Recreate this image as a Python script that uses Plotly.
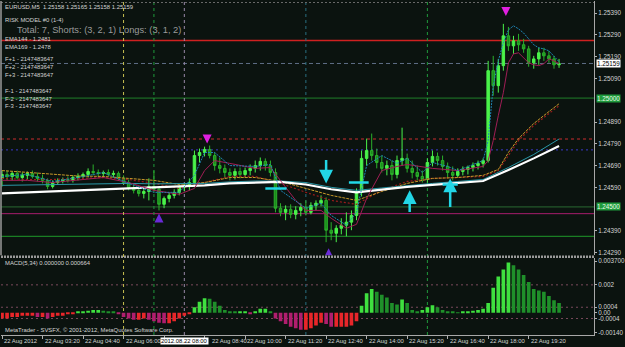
import plotly.graph_objects as go

BG = "#0b130f"
FONT = "Liberation Sans, Arial, sans-serif"
TXT = "#d4d4d4"

# ---------------- data ----------------
# 10-minute bars, 22 Aug 2012 02:00 .. 20:20 (bar index 0..110)
bar_idx = list(range(111))

opens = [
    1.24631, 1.24649, 1.24640, 1.24654, 1.24635, 1.24645, 1.24654, 1.24640, 1.24631, 1.24622,
    1.24594, 1.24612, 1.24617, 1.24626, 1.24622, 1.24635, 1.24640, 1.24649, 1.24663, 1.24658,
    1.24654, 1.24658, 1.24649, 1.24654, 1.24631, 1.24612, 1.24585, 1.24576, 1.24562, 1.24571,
    1.24594, 1.24581, 1.24512, 1.24539, 1.24553, 1.24567, 1.24590, 1.24594, 1.24612, 1.24736,
    1.24750, 1.24764, 1.24736, 1.24690, 1.24677, 1.24658, 1.24645, 1.24663, 1.24649, 1.24667,
    1.24677, 1.24690, 1.24709, 1.24690, 1.24658, 1.24494, 1.24475, 1.24489, 1.24466, 1.24484,
    1.24498, 1.24475, 1.24507, 1.24517, 1.24530, 1.24393, 1.24379, 1.24402, 1.24416, 1.24430,
    1.24461, 1.24567, 1.24723, 1.24759, 1.24736, 1.24704, 1.24677, 1.24690, 1.24649, 1.24713,
    1.24723, 1.24677, 1.24658, 1.24640, 1.24626, 1.24704, 1.24732, 1.24713, 1.24686, 1.24658,
    1.24645, 1.24663, 1.24672, 1.24681, 1.24690, 1.24700, 1.24713, 1.25126, 1.25057, 1.25149,
    1.25286, 1.25240, 1.25263, 1.25245, 1.25226, 1.25162, 1.25180, 1.25208, 1.25194, 1.25180,
    1.25153]
highs = [
    1.24667, 1.24667, 1.24663, 1.24667, 1.24658, 1.24663, 1.24667, 1.24658, 1.24649, 1.24631,
    1.24622, 1.24631, 1.24635, 1.24640, 1.24645, 1.24654, 1.24658, 1.24677, 1.24695, 1.24672,
    1.24667, 1.24672, 1.24667, 1.24663, 1.24645, 1.24626, 1.24603, 1.24594, 1.24585, 1.24631,
    1.24667, 1.24594, 1.24548, 1.24567, 1.24581, 1.24599, 1.24608, 1.24631, 1.24759, 1.24768,
    1.24777, 1.24782, 1.24750, 1.24727, 1.24695, 1.24677, 1.24677, 1.24681, 1.24681, 1.24695,
    1.24713, 1.24727, 1.24723, 1.24713, 1.24677, 1.24517, 1.24507, 1.24512, 1.24503, 1.24517,
    1.24530, 1.24521, 1.24530, 1.24553, 1.24544, 1.24430, 1.24416, 1.24448, 1.24475, 1.24484,
    1.24585, 1.24759, 1.24814, 1.24837, 1.24768, 1.24736, 1.24713, 1.24713, 1.24736, 1.24864,
    1.24745, 1.24713, 1.24690, 1.24667, 1.24723, 1.24759, 1.24750, 1.24736, 1.24704, 1.24686,
    1.24677, 1.24686, 1.24690, 1.24704, 1.24713, 1.24723, 1.25171, 1.25194, 1.25180, 1.25341,
    1.25327, 1.25286, 1.25295, 1.25272, 1.25240, 1.25194, 1.25231, 1.25231, 1.25217, 1.25194,
    1.25180]
lows = [
    1.24594, 1.24622, 1.24622, 1.24626, 1.24617, 1.24626, 1.24631, 1.24617, 1.24608, 1.24581,
    1.24585, 1.24603, 1.24608, 1.24612, 1.24612, 1.24622, 1.24631, 1.24635, 1.24645, 1.24640,
    1.24635, 1.24640, 1.24635, 1.24622, 1.24603, 1.24576, 1.24562, 1.24548, 1.24539, 1.24530,
    1.24567, 1.24484, 1.24494, 1.24521, 1.24539, 1.24553, 1.24571, 1.24576, 1.24603, 1.24704,
    1.24732, 1.24723, 1.24667, 1.24654, 1.24631, 1.24622, 1.24626, 1.24631, 1.24635, 1.24645,
    1.24658, 1.24667, 1.24667, 1.24640, 1.24475, 1.24457, 1.24439, 1.24448, 1.24443, 1.24457,
    1.24461, 1.24466, 1.24484, 1.24503, 1.24338, 1.24347, 1.24338, 1.24374, 1.24365, 1.24393,
    1.24439, 1.24548, 1.24690, 1.24713, 1.24677, 1.24658, 1.24645, 1.24622, 1.24631, 1.24690,
    1.24658, 1.24631, 1.24622, 1.24612, 1.24612, 1.24686, 1.24690, 1.24667, 1.24631, 1.24622,
    1.24635, 1.24645, 1.24649, 1.24663, 1.24672, 1.24681, 1.24704, 1.25011, 1.25025, 1.25126,
    1.25217, 1.25203, 1.25217, 1.25208, 1.25144, 1.25135, 1.25153, 1.25171, 1.25162, 1.25135,
    1.25139]
closes = [
    1.24649, 1.24640, 1.24654, 1.24635, 1.24645, 1.24654, 1.24640, 1.24631, 1.24622, 1.24594,
    1.24612, 1.24617, 1.24626, 1.24622, 1.24635, 1.24640, 1.24649, 1.24663, 1.24658, 1.24654,
    1.24658, 1.24649, 1.24654, 1.24631, 1.24612, 1.24585, 1.24576, 1.24562, 1.24571, 1.24594,
    1.24581, 1.24512, 1.24539, 1.24553, 1.24567, 1.24590, 1.24594, 1.24612, 1.24736, 1.24750,
    1.24764, 1.24736, 1.24690, 1.24677, 1.24658, 1.24645, 1.24663, 1.24649, 1.24667, 1.24677,
    1.24690, 1.24709, 1.24690, 1.24658, 1.24494, 1.24475, 1.24489, 1.24466, 1.24484, 1.24498,
    1.24475, 1.24507, 1.24517, 1.24530, 1.24393, 1.24379, 1.24402, 1.24416, 1.24430, 1.24461,
    1.24567, 1.24723, 1.24759, 1.24736, 1.24704, 1.24677, 1.24690, 1.24649, 1.24713, 1.24723,
    1.24677, 1.24658, 1.24640, 1.24626, 1.24704, 1.24732, 1.24713, 1.24686, 1.24658, 1.24645,
    1.24663, 1.24672, 1.24681, 1.24690, 1.24700, 1.24713, 1.25126, 1.25057, 1.25149, 1.25286,
    1.25240, 1.25263, 1.25245, 1.25226, 1.25162, 1.25180, 1.25208, 1.25194, 1.25180, 1.25153,
    1.25158]

# slow EMAs (sampled every 5 bars)
ema_slow_idx = [0, 5, 10, 15, 20, 25, 30, 35, 40, 45, 50, 55, 60, 65, 70, 75, 80, 85, 90,
                95, 100, 105, 110]
ema169 = [1.24562, 1.24567, 1.24569, 1.24576, 1.24581, 1.24585, 1.24590, 1.24594, 1.24599,
          1.24608, 1.24612, 1.24615, 1.24603, 1.24581, 1.24567, 1.24581, 1.24592, 1.24601,
          1.24610, 1.24619, 1.24670, 1.24723, 1.24780]
ema144 = [1.24599, 1.24601, 1.24603, 1.24606, 1.24608, 1.24608, 1.24606, 1.24606, 1.24608,
          1.24615, 1.24619, 1.24619, 1.24612, 1.24590, 1.24576, 1.24587, 1.24599, 1.24608,
          1.24617, 1.24626, 1.24681, 1.24741, 1.24812]

# medium averages
ma_med_idx = [0, 5, 10, 15, 20, 25, 30, 35, 40, 45, 50, 55, 60, 65, 70, 75, 80, 85, 90, 95,
              98, 100, 102, 105, 108, 110]
ma_orange = [1.24667, 1.24658, 1.24649, 1.24642, 1.24640, 1.24631, 1.24622, 1.24603, 1.24612,
             1.24635, 1.24635, 1.24617, 1.24585, 1.24553, 1.24530, 1.24571, 1.24608, 1.24631,
             1.24635, 1.24645, 1.24672, 1.24750, 1.24814, 1.24883, 1.24938, 1.24974]
ma_red = [1.24631, 1.24626, 1.24626, 1.24631, 1.24635, 1.24626, 1.24608, 1.24585, 1.24612,
          1.24640, 1.24640, 1.24608, 1.24567, 1.24530, 1.24512, 1.24576, 1.24617, 1.24631,
          1.24635, 1.24640, 1.24667, 1.24736, 1.24805, 1.24874, 1.24928, 1.24965]

# fast average (blue)
fast_idx = [0, 5, 10, 15, 20, 25, 30, 35, 38, 40, 42, 45, 50, 53, 55, 60, 63, 65, 68, 70, 72,
            75, 78, 80, 83, 85, 88, 90, 95, 96, 97, 98, 99, 100, 101, 102, 103, 104, 105, 106,
            107, 108, 109, 110]
fast_blue = [1.24640, 1.24649, 1.24617, 1.24635, 1.24658, 1.24608, 1.24567, 1.24567, 1.24645,
             1.24750, 1.24750, 1.24690, 1.24686, 1.24695, 1.24576, 1.24494, 1.24517, 1.24461,
             1.24416, 1.24475, 1.24690, 1.24736, 1.24700, 1.24723, 1.24658, 1.24704, 1.24686,
             1.24667, 1.24713, 1.24805, 1.25057, 1.25171, 1.25254, 1.25313, 1.25332, 1.25318,
             1.25299, 1.25272, 1.25245, 1.25231, 1.25226, 1.25217, 1.25190, 1.25167]

# middle-speed average (maroon)
mid_idx = [0, 5, 10, 15, 20, 25, 30, 35, 38, 40, 42, 45, 50, 53, 55, 58, 60, 63, 65, 68, 70,
           72, 75, 78, 80, 85, 90, 95, 96, 97, 98, 99, 100, 101, 102, 103, 104, 105, 106, 107,
           108, 109, 110]
mid_maroon = [1.24622, 1.24622, 1.24612, 1.24622, 1.24635, 1.24612, 1.24576, 1.24558, 1.24585,
              1.24667, 1.24713, 1.24700, 1.24677, 1.24681, 1.24622, 1.24530, 1.24484, 1.24484,
              1.24448, 1.24402, 1.24420, 1.24539, 1.24667, 1.24686, 1.24695, 1.24677, 1.24667,
              1.24686, 1.24713, 1.24805, 1.24919, 1.25025, 1.25162, 1.25203, 1.25208, 1.25185,
              1.25162, 1.25153, 1.25149, 1.25158, 1.25180, 1.25171, 1.25158]

# MACD(5,34) histogram
macd_hist = [
    -0.0004, -0.0004, -0.0003, -0.0003, -0.0002, -0.0002, -0.0002, -0.0003, -0.0003, -0.0004,
    -0.0003, -0.0002, -0.0002, -0.0001, -0.00005, 0.00005, 0.0001, 0.00015, 0.0002, 0.0002,
    0.00015, 0.0001, 0.00005, -0.0001, -0.0003, -0.0004, -0.0005, -0.0005, -0.0004, -0.0005,
    -0.0006, -0.0007, -0.00075, -0.00075, -0.0006, -0.0004, -0.0002, -0.00005, 0.0004, 0.0008,
    0.00105, 0.001, 0.0008, 0.0005, 0.0002, 0.0001, 0.00005, 0.00005, 0.0001, -0.0001,
    0.0001, 0.0003, 0.0003, 0.0001, -0.0004, -0.0006, -0.0008, -0.001, -0.0011, -0.0012,
    -0.0012, -0.0011, -0.0009, -0.0007, -0.0008, -0.001, -0.001, -0.001, -0.001, -0.0009,
    -0.0006, 0.0005, 0.0014, 0.0017, 0.0015, 0.0013, 0.0011, 0.0007, 0.0006, 0.00095,
    0.0007, 0.0002, 0.0001, 0.0002, 0.0004, 0.00055, 0.0004, 0.0002, 0.0001, 0.00005,
    0.00003, 0.00005, 0.0001, 0.00015, 0.0002, 0.0003, 0.0007, 0.0018, 0.0026, 0.0031,
    0.0036, 0.0034, 0.0031, 0.0027, 0.0022, 0.0017, 0.0016, 0.0015, 0.0012, 0.0009,
    0.0007]

# signal arrows
sell_idx = [40.5, 99.5]
sell_price = [1.24791, 1.25377]
buy_idx = [31, 64.5]
buy_price = [1.24470, 1.24310]

# hand-drawn cyan marks
cyan_arrow_idx = [64, 80.5, 88.5]
cyan_arrow_tail = [1.24723, 1.24470, 1.24493]
cyan_arrow_head = [1.24608, 1.24576, 1.24631]
cyan_dash_from = [52, 68.5, 87]
cyan_dash_to = [56.2, 72.4, 90]
cyan_dash_price = [1.24585, 1.24612, 1.24603]

# horizontal levels
level_price = [1.25265, 1.25159, 1.25000, 1.24812, 1.24762, 1.24500, 1.24469, 1.24365]
level_color = ["#d02020", "#5f6f86", "#1f7f2a", "#8a2424", "#3a3acc", "#2a6a32", "#a81c6c", "#1e9a28"]
level_dash = ["solid", "4px,3px", "solid", "3px,3px", "2px,3px", "solid", "solid", "solid"]
level_width = [1.5, 1, 1, 1.5, 1, 1, 1, 1]

# vertical separators
vline_idx = [24, 30, 36, 60, 84]
vline_color = ["#c8c050", "#1f9a3c", "#9a8aa8", "#2a7080", "#1f9a3c"]

# axis labels
price_ticks = [1.24290, 1.24390, 1.24590, 1.24690, 1.24790, 1.24890, 1.25090, 1.25190,
               1.25290, 1.25390]
macd_ticks = [0.0037, 0.002, 0.0004, 0.0, -0.0004, -0.0014]
macd_tick_text = ["0.003700", "0.002", "0.0004", "0.00", "-0.0004", "-0.00140"]
time_idx = [0, 8, 16, 24, 40, 48, 56, 64, 72, 80, 88, 96, 104]
time_text = ["22 Aug 2012", "22 Aug 03:20", "22 Aug 04:40", "22 Aug 06:00", "22 Aug 08:40",
             "22 Aug 10:00", "22 Aug 11:20", "22 Aug 12:40", "22 Aug 14:00", "22 Aug 15:20",
             "22 Aug 16:40", "22 Aug 18:00", "22 Aug 19:20"]
cursor_idx = 36
cursor_text = "2012.08.22 08:00"

# ---------------- figure ----------------
PLOT_H = 335.0


def py(pix):
    return (PLOT_H - pix) / PLOT_H


fig = go.Figure()

fig.add_trace(go.Candlestick(
    x=bar_idx, open=opens, high=highs, low=lows, close=closes,
    increasing=dict(line=dict(color="#4af24a", width=1), fillcolor="#4af24a"),
    decreasing=dict(line=dict(color="#2bb02b", width=1), fillcolor="#1c8c1c"),
    whiskerwidth=0, xaxis="x", yaxis="y", hoverinfo="skip", showlegend=False))

fig.add_trace(go.Scatter(x=ma_med_idx, y=ma_red, mode="lines",
                         line=dict(color="#9a1c1c", width=1.2, dash="2px,2px"), hoverinfo="skip"))
fig.add_trace(go.Scatter(x=ma_med_idx, y=ma_orange, mode="lines",
                         line=dict(color="#c89a2a", width=1, dash="3px,1px"), hoverinfo="skip"))
fig.add_trace(go.Scatter(x=ema_slow_idx, y=ema144, mode="lines",
                         line=dict(color="#2a98a8", width=1), hoverinfo="skip"))
fig.add_trace(go.Scatter(x=ema_slow_idx, y=ema169, mode="lines",
                         line=dict(color="#ffffff", width=2.2), hoverinfo="skip"))
fig.add_trace(go.Scatter(x=mid_idx, y=mid_maroon, mode="lines",
                         line=dict(color="#a01e55", width=1), hoverinfo="skip"))
fig.add_trace(go.Scatter(x=fast_idx, y=fast_blue, mode="lines",
                         line=dict(color="#1f86b8", width=1, dash="2px,1px"), hoverinfo="skip"))

fig.add_trace(go.Scatter(x=sell_idx, y=sell_price, mode="markers",
                         marker=dict(symbol="arrow-down", size=9, color="#e020e0"), hoverinfo="skip"))
fig.add_trace(go.Scatter(x=buy_idx, y=buy_price, mode="markers",
                         marker=dict(symbol="arrow-up", size=9, color="#6a2ad8"), hoverinfo="skip"))

macd_colors = []
for k, v in enumerate(macd_hist):
    prev = macd_hist[k - 1] if k else v
    if v >= 0:
        macd_colors.append("#3fe03f" if v >= prev else "#1f8f2a")
    else:
        macd_colors.append("#e8262a" if v >= prev else "#b01e6e")
fig.add_trace(go.Bar(x=bar_idx, y=macd_hist, marker=dict(color=macd_colors, line=dict(width=0)),
                     width=0.72, xaxis="x2", yaxis="y2", hoverinfo="skip"))

shapes = []
for p, c, d, w in zip(level_price, level_color, level_dash, level_width):
    shapes.append(dict(type="line", xref="paper", x0=0, x1=1, yref="y", y0=p, y1=p,
                       line=dict(color=c, width=w, dash=d), layer="below"))
for xi, c in zip(vline_idx, vline_color):
    shapes.append(dict(type="line", xref="x", x0=xi, x1=xi, yref="paper", y0=0, y1=1,
                       line=dict(color=c, width=1, dash="3px,3px"), layer="below"))
for v in [0.002, 0.0004, -0.0004]:
    shapes.append(dict(type="line", xref="paper", x0=0, x1=1, yref="y2", y0=v, y1=v,
                       line=dict(color="#7a4a5c", width=1, dash="2px,3px"), layer="below"))
# panel separator and frame
shapes.append(dict(type="line", xref="paper", x0=0, x1=1, yref="paper", y0=py(256.5), y1=py(256.5),
                   line=dict(color="#9a9a9a", width=2.5, dash="2px,1px")))
shapes.append(dict(type="line", xref="paper", x0=0, x1=1, yref="paper", y0=py(1.5), y1=py(1.5),
                   line=dict(color="#6a6a6a", width=1, dash="2px,2px")))
shapes.append(dict(type="line", xref="paper", x0=0, x1=0, yref="paper", y0=py(255), y1=1,
                   line=dict(color="#9a9a9a", width=1.5)))
for xi, t0, t1 in zip(cyan_dash_from, cyan_dash_to, cyan_dash_price):
    shapes.append(dict(type="line", xref="x", x0=xi, x1=t0, yref="y", y0=t1, y1=t1,
                       line=dict(color="#22d6e6", width=2.5)))

ann = []
for xi, tail, head in zip(cyan_arrow_idx, cyan_arrow_tail, cyan_arrow_head):
    ann.append(dict(x=xi, y=head, xref="x", yref="y", ax=xi, ay=tail, axref="x", ayref="y",
                    text="", showarrow=True, arrowhead=2, arrowsize=1.1, arrowwidth=2.5,
                    arrowcolor="#22d6e6"))

small = dict(family=FONT, size=5.9, color=TXT)
top_lines = [
    ("EURUSD,M5  1.25158 1.25165 1.25158 1.25159", 6),
    ("RISK MODEL #0 (1-4)", 19),
    ("EMA144 - 1.2481", 38.5),
    ("EMA169 - 1.2478", 46),
    ("F+1 - 2147483647", 58),
    ("F+2 - 2147483647", 66),
    ("F+3 - 2147483647", 74),
    ("F-1 - 2147483647", 90),
    ("F-2 - 2147483647", 98),
    ("F-3 - 2147483647", 105),
]
for t, yp in top_lines:
    ann.append(dict(x=2 / 600, y=py(yp), xref="paper", yref="paper", text=t, showarrow=False,
                    xanchor="left", yanchor="middle", font=small))
ann.append(dict(x=14 / 600, y=py(29.5), xref="paper", yref="paper",
                text="Total: 7, Shorts: (3, 2, 1) Longs: (3, 1, 2)", showarrow=False,
                xanchor="left", yanchor="middle", font=dict(family=FONT, size=9.3, color="#9a9a9a")))
ann.append(dict(x=2 / 600, y=py(263), xref="paper", yref="paper", text="MACD(5,34) 0.000000 0.000664",
                showarrow=False, xanchor="left", yanchor="middle", font=small))
ann.append(dict(x=2 / 600, y=py(330), xref="paper", yref="paper",
                text="MetaTrader - SVSFX, © 2001-2012, MetaQuotes Software Corp.",
                showarrow=False, xanchor="left", yanchor="middle", font=small))

for xi, t in zip(time_idx, time_text):
    ann.append(dict(x=xi, y=py(341), xref="x2", yref="paper", text=t, showarrow=False,
                    xanchor="left", yanchor="middle", xshift=(5 if t.endswith("08:40") else 0),
                    font=small))
ann.append(dict(x=cursor_idx, y=py(341), xref="x2", yref="paper", text=cursor_text,
                showarrow=False, xanchor="center", yanchor="middle", bgcolor="#ffffff",
                font=dict(family=FONT, size=5.9, color="#000000"), borderpad=0))

# price boxes on the right axis
for p, bg, fc in [(1.25159, "#ffffff", "#000000"), (1.25000, "#1f9a3c", "#eaffea"),
                  (1.24500, "#1f9a3c", "#eaffea")]:
    ann.append(dict(x=1, y=p, xref="paper", yref="y", text=f"{p:.5f}", showarrow=False,
                    xanchor="left", yanchor="middle", xshift=2, bgcolor=bg, borderpad=0,
                    font=dict(family=FONT, size=6.3, color=fc)))

axis_font = dict(family=FONT, size=6.3, color=TXT)
xr = [-0.2, 116.9]
fig.update_layout(
    width=625, height=347, margin=dict(l=1, r=24, t=0, b=12),
    paper_bgcolor=BG, plot_bgcolor=BG, showlegend=False,
    shapes=shapes, annotations=ann,
    xaxis=dict(domain=[0, 1], range=xr, anchor="y", showgrid=False, zeroline=False,
               showticklabels=False, rangeslider=dict(visible=False), fixedrange=True),
    yaxis=dict(domain=[py(255), 1], range=[1.24278, 1.25446], side="right", anchor="x",
               tickvals=price_ticks, ticktext=[f"{v:.5f}" for v in price_ticks],
               tickfont=axis_font, ticks="outside", ticklen=2, tickcolor="#b0b0b0",
               showgrid=False, zeroline=False, showline=True, linecolor="#a8a8a8", linewidth=1),
    xaxis2=dict(domain=[0, 1], range=xr, anchor="y2", showgrid=False, zeroline=False,
                showticklabels=False, ticks="outside", tickvals=time_idx + [32], ticklen=3,
                tickcolor="#b0b0b0", showline=True, linecolor="#a8a8a8"),
    yaxis2=dict(domain=[0, py(258)], range=[-0.00158, 0.0039], side="right", anchor="x2",
                tickvals=macd_ticks, ticktext=macd_tick_text, tickfont=axis_font,
                ticks="outside", ticklen=2, tickcolor="#b0b0b0",
                showgrid=False, zeroline=False, showline=True, linecolor="#a8a8a8", linewidth=1),
)

fig.write_html("out.html")
